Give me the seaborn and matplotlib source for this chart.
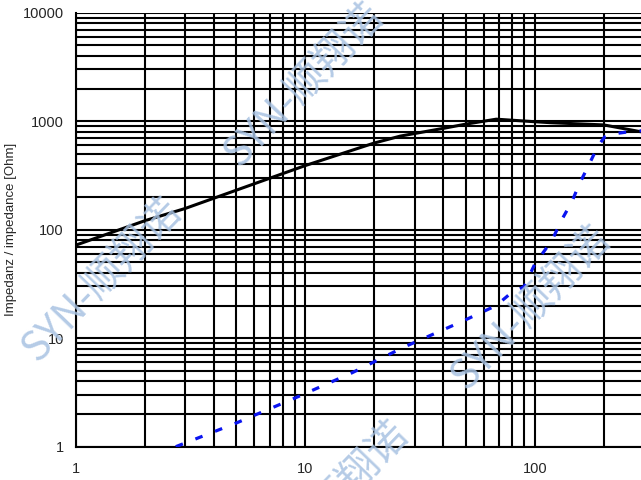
import matplotlib
matplotlib.use("Agg")
import matplotlib.pyplot as plt
import numpy as np
import pandas as pd
import seaborn as sns
from matplotlib.ticker import LogLocator, NullFormatter, FixedFormatter, FixedLocator

# impedance curve (solid black)
z_freq = [1, 2, 3, 7, 10, 20, 26, 40, 50, 68, 100, 117, 200, 290]
z_ohm = [72, 121, 157, 298, 390, 630, 730, 860, 940, 1045, 990, 970, 925, 800]

# second curve (blue dashed)
r_freq = [2.73, 5, 9, 16, 27, 48, 68, 77, 90, 100, 119, 131, 145, 157, 172, 188, 202, 215, 258, 300]
r_ohm = [1, 1.65, 2.8, 4.8, 8.3, 14.2, 20, 25, 30, 48, 80, 123, 180, 268, 394, 582, 720, 760, 800, 820]

x_ticks = [1, 10, 100]
y_ticks = [1, 10, 100, 1000, 10000]
y_label = "Impedanz / impedance [Ohm]"
watermark = "SYN-顺翔诺"

sns.set_style("white")
plt.rcParams["font.family"] = ["Liberation Sans", "DejaVu Sans"]

fig = plt.figure(figsize=(6.41, 4.80), dpi=100)
ax = fig.add_axes([0.118, 0.0694, 0.887, 0.904])

imp = pd.DataFrame({"f": z_freq, "z": z_ohm})
res = pd.DataFrame({"f": r_freq, "z": r_ohm})

sns.lineplot(data=imp, x="f", y="z", ax=ax, color="black", lw=2.2, sort=False, zorder=3)
sns.lineplot(data=res, x="f", y="z", ax=ax, color="#0a14f0", lw=2.3, sort=False,
             linestyle=(0, (2.4, 4.2)), dash_capstyle="butt", zorder=3)

ax.set(xscale="log", yscale="log")
ax.set_xlim(1, 300)
ax.set_ylim(1, 10000)

ax.xaxis.set_major_locator(FixedLocator(x_ticks))
ax.xaxis.set_major_formatter(FixedFormatter([str(v) for v in x_ticks]))
ax.xaxis.set_minor_locator(LogLocator(base=10, subs=np.arange(2, 10)))
ax.xaxis.set_minor_formatter(NullFormatter())
ax.yaxis.set_major_locator(FixedLocator(y_ticks))
ax.yaxis.set_major_formatter(FixedFormatter([str(v) for v in y_ticks]))
ax.yaxis.set_minor_locator(LogLocator(base=10, subs=np.arange(2, 10), numticks=20))
ax.yaxis.set_minor_formatter(NullFormatter())

ax.grid(which="both", color="black", lw=1.5, zorder=1)
ax.set_axisbelow(True)
for side in ["top", "right"]:
    ax.spines[side].set_visible(False)
for side in ["left", "bottom"]:
    ax.spines[side].set_color("black")
    ax.spines[side].set_linewidth(1.5)

ax.tick_params(axis="x", which="major", direction="out", length=4, width=1.5,
               color="black", labelsize=10.5, pad=7)
ax.tick_params(axis="x", which="minor", length=0)
ax.tick_params(axis="y", which="major", direction="out", length=3.5, width=1.5,
               color="black", labelsize=10.5, pad=5)
ax.tick_params(axis="y", which="minor", direction="out", length=2.5, width=1.5, color="black")

ax.set_xlabel("")
ax.set_ylabel(y_label, fontsize=9.5)
ax.yaxis.set_label_coords(-0.103, 0.5)

# watermark copies
for cx, cy in [(304, 85), (102, 280), (531, 308), (329, 503)]:
    fig.text(cx / 641, 1 - cy / 480, watermark, fontsize=29, color="#a8c2e2",
             alpha=0.85, rotation=46, ha="center", va="center",
             family=["Noto Sans CJK SC", "DejaVu Sans"], fontweight="light",
             rotation_mode="anchor", zorder=10)

fig.savefig("out.png", dpi=100)
